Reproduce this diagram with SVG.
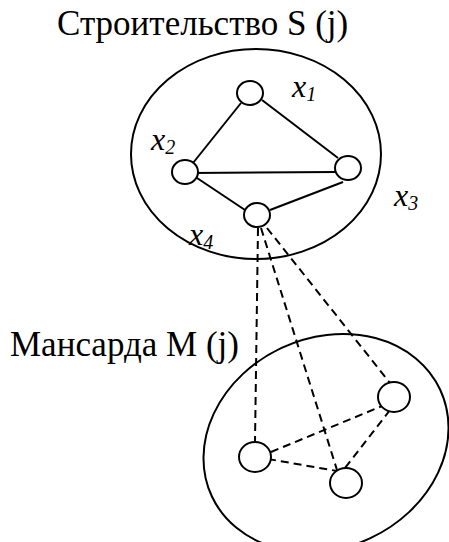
<svg xmlns="http://www.w3.org/2000/svg" width="449" height="542" viewBox="0 0 449 542">
<style>
.outline{fill:none;stroke:#000;stroke-width:2}
.node{fill:#fff;stroke:#000;stroke-width:2}
.edge{stroke:#000;stroke-width:2;fill:none}
.dash{stroke:#000;stroke-width:2;fill:none;stroke-dasharray:8 5}
</style>
<rect width="449" height="542" fill="#fff"/>
<g id="title-S"><text font-family="Liberation Serif, serif" font-size="35" x="57" y="35">Строительство S (j)</text></g>
<g id="title-M"><text font-family="Liberation Serif, serif" font-size="35" x="10" y="356">Мансарда М (j)</text></g>
<g id="set-S"><ellipse class="outline" cx="256" cy="154" rx="125" ry="105"/></g>
<g id="set-M"><ellipse class="outline" cx="326" cy="443" rx="126" ry="105" transform="rotate(-25 326 443)"/></g>
<g id="connectors">
<line class="edge" x1="241" y1="103" x2="193" y2="163"/>
<line class="edge" x1="262" y1="100" x2="338" y2="158"/>
<line class="edge" x1="192" y1="173" x2="336" y2="172"/>
<line class="edge" x1="194" y1="176" x2="245" y2="210"/>
<line class="edge" x1="343" y1="182" x2="270" y2="210"/>
<line class="dash" x1="258" y1="228" x2="255" y2="442"/>
<line class="dash" x1="261" y1="228" x2="337" y2="470"/>
<line class="dash" x1="267" y1="228" x2="390" y2="383"/>
<line class="dash" x1="271" y1="452" x2="387" y2="404"/>
<line class="dash" x1="268" y1="459" x2="337" y2="471"/>
<line class="dash" x1="390" y1="410" x2="345" y2="468"/>
</g>
<g id="node-x1"><ellipse class="node" cx="250" cy="93" rx="13" ry="12"/></g>
<g id="node-x2"><ellipse class="node" cx="185" cy="172" rx="13" ry="12"/></g>
<g id="node-x3"><ellipse class="node" cx="348" cy="168" rx="13" ry="12"/></g>
<g id="node-x4"><ellipse class="node" cx="257" cy="215" rx="13" ry="12"/></g>
<g id="node-m1"><ellipse class="node" cx="255" cy="457" rx="16" ry="15"/></g>
<g id="node-m2"><ellipse class="node" cx="394" cy="397" rx="16" ry="15"/></g>
<g id="node-m3"><ellipse class="node" cx="346" cy="483" rx="16" ry="15"/></g>
<g id="labels" font-family="Liberation Serif, serif" font-style="italic" font-size="32">
<text x="292" y="97">x<tspan font-size="20" dy="4">1</tspan></text>
<text x="151" y="150">x<tspan font-size="20" dy="4">2</tspan></text>
<text x="394" y="206">x<tspan font-size="20" dy="4">3</tspan></text>
<text x="189" y="245">x<tspan font-size="20" dy="4">4</tspan></text>
</g>
</svg>
